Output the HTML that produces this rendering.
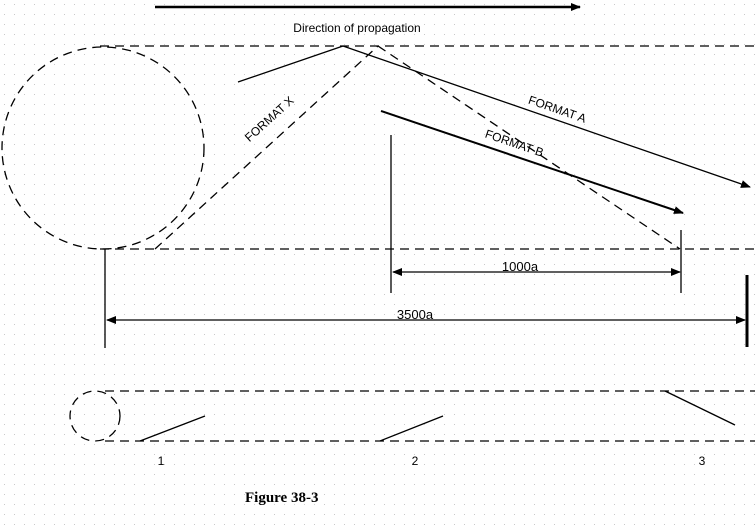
<!DOCTYPE html>
<html><head><style>body{margin:0;background:#fff}svg{display:block}</style></head><body>
<svg width="755" height="527" xmlns="http://www.w3.org/2000/svg" font-family="Liberation Sans, sans-serif">
<defs>
<pattern id="g" width="10" height="10" patternUnits="userSpaceOnUse"><rect x="4" y="4" width="1" height="1" fill="#c8c8c8"/></pattern>
<marker id="a" markerWidth="10" markerHeight="8" refX="9" refY="4" orient="auto" markerUnits="userSpaceOnUse"><path d="M0,0L10,4L0,8z" fill="#000"/></marker>
<marker id="b" markerWidth="10" markerHeight="8" refX="1" refY="4" orient="auto" markerUnits="userSpaceOnUse"><path d="M10,0L0,4L10,8z" fill="#000"/></marker>
</defs>
<rect width="755" height="527" fill="url(#g)"/>
<g stroke="#000" fill="none" stroke-width="1.3">
<line x1="155" y1="7" x2="580" y2="7" stroke-width="2.5" marker-end="url(#a)"/>
<g stroke-dasharray="9,6">
<line x1="100" y1="46" x2="755" y2="46"/>
<line x1="100" y1="249" x2="755" y2="249"/>
<circle cx="103" cy="148" r="101"/>
<line x1="155" y1="249" x2="378" y2="46"/>
<line x1="378" y1="46" x2="680" y2="249"/>
<line x1="105" y1="391" x2="755" y2="391"/>
<line x1="105" y1="441" x2="755" y2="441"/>
<ellipse cx="95" cy="416" rx="25" ry="25"/>
</g>
<line x1="238" y1="82" x2="343" y2="46"/>
<line x1="343" y1="46" x2="750" y2="187" marker-end="url(#a)"/>
<line x1="381" y1="111" x2="683" y2="213" stroke-width="2" marker-end="url(#a)"/>
<line x1="391" y1="135" x2="391" y2="293"/>
<line x1="681" y1="230" x2="681" y2="293"/>
<line x1="393" y1="272" x2="680" y2="272" marker-start="url(#b)" marker-end="url(#a)"/>
<line x1="105" y1="249" x2="105" y2="348"/>
<line x1="747" y1="275" x2="747" y2="347" stroke-width="3"/>
<line x1="107" y1="320" x2="745" y2="320" marker-start="url(#b)" marker-end="url(#a)"/>
<line x1="140" y1="441" x2="205" y2="416"/>
<line x1="380" y1="441" x2="443" y2="416"/>
<line x1="665" y1="391" x2="735" y2="425"/>
</g>
<g font-size="12" fill="#000">
<text x="357" y="32" text-anchor="middle">Direction of propagation</text>
<text transform="translate(272,122) rotate(-42)" text-anchor="middle">FORMAT X</text>
<text transform="translate(556,113) rotate(19)" text-anchor="middle">FORMAT A</text>
<text transform="translate(513,147) rotate(19)" text-anchor="middle">FORMAT B</text>
<text x="520" y="271" text-anchor="middle" font-size="13">1000a</text>
<text x="415" y="319" text-anchor="middle" font-size="13">3500a</text>
<text x="161" y="465" text-anchor="middle">1</text>
<text x="415" y="465" text-anchor="middle">2</text>
<text x="702" y="465" text-anchor="middle">3</text>
<text x="245" y="502" font-family="Liberation Serif, serif" font-weight="bold" font-size="15">Figure 38-3</text>
</g>
</svg>
</body></html>
